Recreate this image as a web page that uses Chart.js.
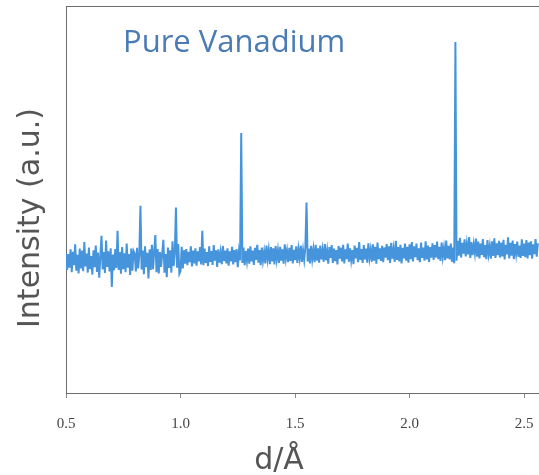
<!DOCTYPE html>
<html>
<head>
<meta charset="utf-8">
<title>Pure Vanadium</title>
<script src="https://cdn.jsdelivr.net/npm/chart.js@4.4.1/dist/chart.umd.min.js"></script>
<style>
  html, body { margin: 0; padding: 0; background: #fff; overflow: hidden; }
</style>
</head>
<body>
<canvas id="xrdChart" width="539" height="475"></canvas>
<script>
// Data
const sampleName = "Pure Vanadium";
const xTitle = "d/Å";
const yTitle = "Intensity (a.u.)";
const xTicks = [0.5, 1.0, 1.5, 2.0, 2.5];

// d grid of the scan (Å)
const dStart = 0.5;
const dStep = 0.005;

// measured intensity, one row = 0.1 Å
const intensity = [
  36.2, 31.8, 35.9, 32.4, 37.1, 31.2, 36.5, 33.0, 38.4, 31.6, 35.7, 30.9, 37.3, 32.2, 36.8, 31.5, 39.0, 32.7, 36.0, 31.1,
  37.6, 32.0, 35.4, 30.6, 36.9, 32.5, 38.1, 31.3, 36.3, 29.8, 35.2, 40.6, 31.9, 36.4, 31.0, 39.4, 32.6, 36.6, 31.4, 37.4,
  27.4, 35.8, 31.7, 37.2, 32.3, 41.9, 31.8, 36.4, 30.8, 37.7, 32.0, 36.1, 31.2, 38.6, 32.4, 35.9, 30.5, 37.3, 31.6, 36.7,
  36.0, 31.4, 37.5, 32.2, 35.6, 48.4, 31.9, 36.8, 30.7, 37.9, 32.5, 36.2, 29.6, 37.1, 31.8, 38.3, 32.0, 36.5, 40.8, 31.2,
  37.2, 30.9, 36.4, 32.6, 36.0, 39.6, 31.1, 35.9, 29.9, 37.6, 32.3, 36.9, 31.1, 39.2, 32.8, 36.1, 47.9, 32.4, 38.5, 30.8,
  31.5, 37.8, 32.2, 36.9, 33.4, 37.2, 33.0, 36.5, 33.8, 37.9, 32.7, 36.8, 33.5, 37.4, 32.9, 36.6, 34.0, 37.7, 33.2, 41.9,
  33.0, 37.3, 33.6, 36.4, 32.8, 37.9, 33.9, 36.7, 33.1, 38.2, 34.2, 36.9, 32.6, 37.1, 33.7, 36.3, 33.3, 38.0, 34.1, 36.8,
  33.5, 37.4, 32.9, 36.6, 34.0, 37.8, 33.2, 36.9, 33.8, 37.2, 32.5, 36.5, 34.3, 67.2, 33.6, 37.6, 33.0, 36.7, 34.1, 37.3,
  33.4, 37.9, 34.0, 36.8, 33.1, 37.5, 34.4, 38.3, 33.7, 36.9, 33.0, 37.6, 34.2, 36.5, 33.5, 38.1, 34.6, 37.0, 33.3, 37.7,
  34.0, 37.4, 33.2, 38.0, 34.5, 36.9, 33.6, 37.8, 34.2, 37.1, 33.4, 38.4, 34.7, 36.8, 33.8, 37.5, 34.1, 38.2, 33.5, 37.0,
  34.3, 37.9, 33.6, 37.2, 34.8, 38.1, 33.9, 36.9, 34.4, 37.6, 49.2, 34.0, 37.3, 33.5, 38.0, 34.6, 37.1, 33.8, 38.3, 34.2,
  37.4, 33.7, 38.1, 34.5, 37.0, 33.9, 38.5, 34.3, 36.8, 33.4, 37.7, 34.9, 38.2, 33.6, 37.3, 34.1, 36.9, 33.2, 38.0, 34.7,
  37.6, 34.0, 38.3, 33.5, 37.1, 34.6, 38.6, 33.9, 37.4, 34.3, 36.9, 33.3, 38.1, 34.8, 37.5, 33.8, 39.0, 34.4, 37.2, 33.6,
  38.2, 34.5, 37.3, 33.7, 38.7, 34.9, 37.0, 33.9, 38.4, 34.2, 37.8, 33.4, 38.9, 34.6, 37.4, 34.1, 38.0, 33.8, 37.6, 35.0,
  38.5, 34.3, 37.9, 33.6, 38.8, 34.7, 37.2, 33.9, 39.3, 34.4, 37.7, 34.0, 38.3, 33.5, 37.5, 34.8, 38.6, 34.2, 37.8, 33.7,
  38.4, 34.6, 39.0, 34.0, 37.9, 35.1, 38.6, 34.3, 37.4, 33.8, 38.9, 34.9, 37.6, 34.2, 39.2, 34.5, 38.1, 33.9, 37.7, 35.0,
  38.7, 34.4, 38.2, 35.0, 39.1, 34.6, 37.8, 34.1, 38.9, 35.2, 37.5, 34.3, 39.4, 34.8, 38.0, 34.5, 38.6, 33.9, 37.6, 33.5,
  90.7, 34.2, 39.3, 35.5, 40.1, 35.0, 38.8, 36.0, 39.7, 35.3, 38.5, 35.8, 40.3, 34.9, 39.0, 35.6, 38.4, 36.1, 39.9, 35.2,
  39.1, 34.8, 38.6, 35.7, 39.8, 35.1, 38.2, 34.6, 39.5, 35.9, 38.0, 34.7, 39.2, 35.4, 40.0, 34.9, 38.7, 35.6, 39.3, 35.0,
  38.9, 35.3, 39.6, 34.5, 38.3, 35.8, 40.2, 34.8, 38.8, 35.5, 39.4, 34.6, 38.5, 35.9, 39.1, 35.2, 38.1, 34.9, 39.7, 35.4,
  38.6, 35.1, 39.5, 34.8, 38.9, 35.6, 39.2, 34.7, 38.4, 35.9, 39.8, 35.2, 38.7
];

const scanPoints = intensity.map((v, i) => ({ x: dStart + i * dStep, y: v }));

// Labels and top frame line
const frameText = {
  id: 'frameText',
  afterDraw(chart) {
    const { ctx, chartArea } = chart;
    ctx.save();
    ctx.strokeStyle = '#6e6e6e';
    ctx.lineWidth = 1;
    ctx.beginPath();
    ctx.moveTo(chartArea.left, chartArea.top + 0.5);
    ctx.lineTo(chartArea.right, chartArea.top + 0.5);
    ctx.stroke();

    ctx.fillStyle = '#4a7bb5';
    ctx.font = '31px "Open Sans"';
    ctx.textAlign = 'left';
    ctx.textBaseline = 'alphabetic';
    ctx.fillText(sampleName, 123, 52);

    ctx.fillStyle = '#555';
    ctx.font = '30px "DejaVu Sans"';
    ctx.textAlign = 'center';
    ctx.fillText(xTitle, 279, 469);

    ctx.font = '30px "DejaVu Sans"';
    ctx.translate(39, 218);
    ctx.rotate(-Math.PI / 2);
    ctx.fillText(yTitle, 0, 0);
    ctx.restore();
  }
};

new Chart(document.getElementById('xrdChart'), {
  type: 'line',
  data: {
    datasets: [{
      data: scanPoints,
      borderColor: '#4594dc',
      borderWidth: 2,
      pointRadius: 0,
      tension: 0,
      fill: false
    }]
  },
  options: {
    responsive: false,
    animation: false,
    layout: { padding: { top: 6, right: 0, bottom: 0, left: 0 } },
    plugins: { legend: { display: false }, tooltip: { enabled: false } },
    scales: {
      x: {
        type: 'linear',
        min: 0.5,
        max: 2.565,
        afterFit: (scale) => {
          scale.height = 82;
          scale.paddingLeft = 0;
          scale.paddingRight = 0;
        },
        afterBuildTicks: (scale) => { scale.ticks = xTicks.map(v => ({ value: v })); },
        ticks: {
          autoSkip: false,
          maxRotation: 0,
          padding: 17,
          color: '#444',
          font: { family: '"Liberation Serif"', size: 15 },
          callback: (v) => Number(v).toFixed(1)
        },
        grid: { display: true, drawOnChartArea: false, drawTicks: true, tickLength: 5, color: '#888' },
        border: { display: true, color: '#6e6e6e', width: 1 }
      },
      y: {
        min: 0,
        max: 100,
        afterFit: (scale) => { scale.width = 66; },
        ticks: { display: false },
        grid: { display: false },
        border: { display: true, color: '#6e6e6e', width: 1 }
      }
    }
  },
  plugins: [frameText]
});
</script>
</body>
</html>
